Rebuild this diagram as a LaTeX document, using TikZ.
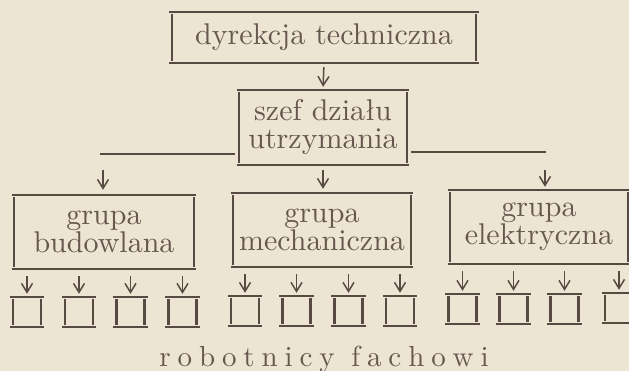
\documentclass[tikz,border=0pt]{standalone}
\usepackage{fontspec}
\setmainfont{lmroman10-regular}[Extension=.otf]
\usetikzlibrary{arrows.meta}
\definecolor{paper}{HTML}{EDE5D4}
\definecolor{ink}{HTML}{574A42}
\definecolor{inktext}{HTML}{66584F}
\newcommand\rfsp{\kern6.9pt}
\begin{document}
\begin{tikzpicture}[x=1pt,y=-1pt,
  box/.style={rectangle, draw=none, inner sep=0pt, align=center, text=inktext,
    font=\fontsize{30}{28}\selectfont},
  sbox/.style={rectangle, draw=none, inner sep=0pt, minimum width=28pt, minimum height=30pt},
  arr/.style={draw=ink, line width=1.5pt, -{Straight Barb[length=9pt,width=11pt]}},
  hline/.style={draw=ink, line width=2.6pt},
  edge/.style={draw=ink, line width=2.5pt},
  lbl/.style={text=inktext, inner sep=0pt, font=\fontsize{29}{28}\selectfont}
]
\fill[paper] (0,0) rectangle (629,371);
\clip (0,0) rectangle (629,371);
% main boxes
\node[box, minimum width=304pt, minimum height=51pt] (t) at (324,37.5) {dyrekcja techniczna};
\node[box, minimum width=168pt, minimum height=75pt] (s) at (323,127.5) {szef działu\\utrzymania};
\node[box, minimum width=180pt, minimum height=74pt] (b1) at (104,232) {grupa\\budowlana};
\node[box, minimum width=178pt, minimum height=74pt] (b2) at (322,230) {grupa\\mechaniczna};
\node[box, minimum width=178pt, minimum height=74pt] (b3) at (539,227) {grupa\\elektryczna};
% small boxes
\foreach \i/\x/\y in {1/27/312, 2/79/312, 3/130.5/312, 4/182.5/312,
                      5/245/311, 6/296.5/311, 7/348.5/311, 8/400/311,
                      9/462.5/309, 10/513.5/309, 11/564.5/309, 12/619/308}
  \node[sbox] (w\i) at (\x,\y) {};
% box outlines (typewriter style)
\foreach \n/\o in {t/2.5, s/1.5, b1/2, b2/2, b3/2, w1/3, w2/3, w3/3, w4/3, w5/3, w6/3,
                   w7/3, w8/3, w9/3, w10/3, w11/3, w12/3} {
  \draw[edge] ([xshift=-\o pt]\n.north west) -- ([xshift=\o pt]\n.north east);
  \draw[edge] ([xshift=-\o pt]\n.south west) -- ([xshift=\o pt]\n.south east);
  \draw[edge, shorten <=2pt, shorten >=2pt] (\n.north west) -- (\n.south west);
  \draw[edge, shorten <=2pt, shorten >=2pt] (\n.north east) -- (\n.south east);
}
% branch lines
\coordinate (la) at (103,154);
\coordinate (ra) at (545,152);
\draw[hline, shorten >=4pt] ([xshift=-3pt]la) -- (la -| s.west);
\draw[hline, shorten <=4pt] (ra -| s.east) -- ([xshift=1pt]ra);
% arrows
\draw[arr, shorten <=4pt, shorten >=3pt] (t.south) -- (s.north);
\draw[arr, shorten <=5pt, shorten >=4pt] (s.south) -- (s.south |- b2.north);
\draw[arr, shorten <=16pt, shorten >=5pt] (la) -- (la |- b1.north);
\draw[arr, shorten <=18pt, shorten >=3pt] (ra) -- (ra |- b3.north);
\foreach \g/\i in {b1/1, b1/2, b1/3, b1/4, b2/5, b2/6, b2/7, b2/8, b3/9, b3/10, b3/11, b3/12}
  \draw[arr, shorten <=7pt, shorten >=3pt] (w\i.north |- \g.south) -- (w\i.north);
% label
\node[lbl, anchor=base] (r) at (324,366) {r\rfsp o\rfsp b\rfsp o\rfsp t\rfsp n\rfsp i\rfsp c\rfsp y\ \rfsp f\rfsp a\rfsp c\rfsp h\rfsp o\rfsp w\rfsp i};
\end{tikzpicture}
\end{document}
